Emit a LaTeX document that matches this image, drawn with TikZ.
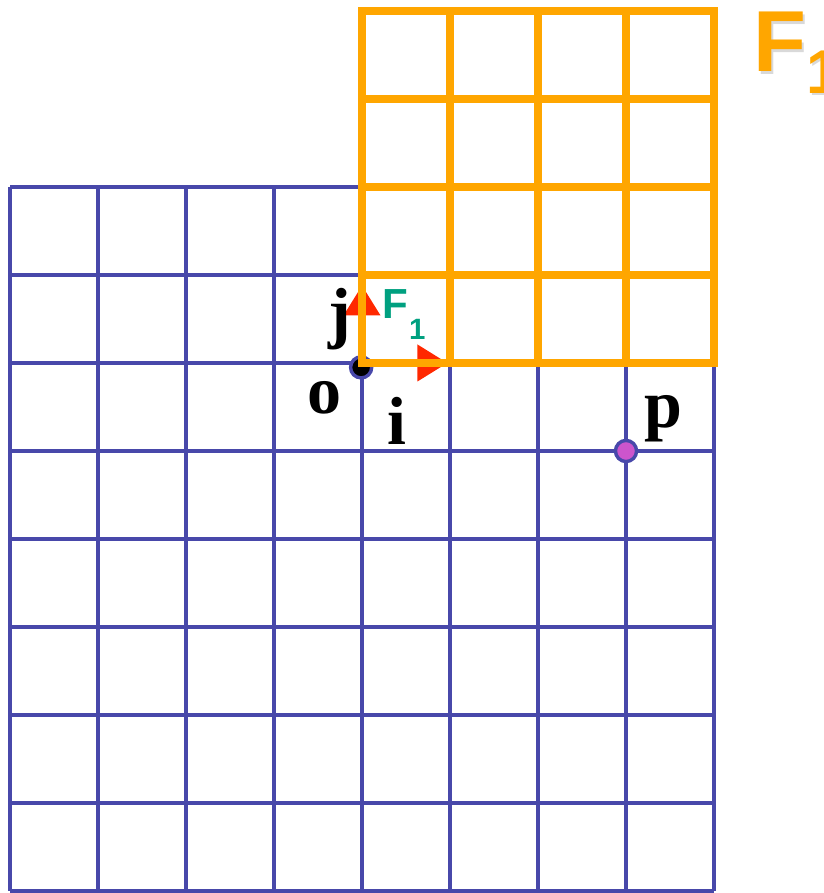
\documentclass[tikz,border=0pt]{standalone}
\usepackage{fontspec}
\setmainfont{Liberation Serif}
\newfontfamily\arialfont{Liberation Sans}
\usetikzlibrary{arrows.meta}

\definecolor{gridblue}{RGB}{72,72,170}
\definecolor{frameorange}{RGB}{255,166,0}
\definecolor{framegreen}{RGB}{0,160,128}
\definecolor{vecred}{RGB}{255,40,0}
\definecolor{pointpink}{RGB}{204,85,204}

% F with a lowered 1: sizes, gap, drop
\newcommand{\framelabel}[4]{{\arialfont\bfseries\fontsize{#1}{#1}\selectfont F\hspace{#3}\raisebox{-#4}{\fontsize{#2}{#2}\selectfont 1}}}

\begin{document}
\begin{tikzpicture}[
    bluegrid/.style = {draw=gridblue, line width=1pt},
    orangegrid/.style = {draw=frameorange, line width=2.5pt, line cap=rect},
    vec/.style = {draw=vecred, fill=vecred, line width=1.2pt, -{Triangle[length=0.34cm,width=0.41cm]}},
    letter/.style = {font=\fontsize{22}{26}\selectfont\bfseries, inner sep=0pt, anchor=base},
    dot/.style = {circle, draw=gridblue, line width=1.1pt, minimum size=0.24cm, inner sep=0pt}
]
\useasboundingbox (-0.114,-0.023) rectangle (9.239,10.125);
% world grid
\draw[bluegrid] (0,0) grid (8,8);
% axes of F1
\coordinate (o) at (4,6);
\coordinate (itip) at (4.97,6);
\coordinate (jtip) at (4,6.88);
\draw[vec] (o) -- (itip);
\draw[vec] (o) -- (jtip);
\node[dot, fill=black] (odot) at (3.99,5.95) {};
\node[dot, fill=pointpink] (pdot) at (7,5) {};
% grid of F1
\draw[orangegrid] (4,6) grid (8,10);
% labels
\node[letter] (jlab) at (3.75,6.31) {j};
\node[letter] (olab) at (3.57,5.43) {o};
\node[letter] (ilab) at (4.40,5.07) {i};
\node[letter] (plab) at (7.42,5.27) {p};
\node[anchor=base west, inner sep=0pt, text=framegreen] (flab) at (4.22,6.51) {\framelabel{13.6pt}{9.5pt}{0.5pt}{6.8pt}};
\node[anchor=base west, inner sep=0pt, text=black!15] (Fshadow) at (8.47,9.28) {\framelabel{28pt}{20pt}{0pt}{7pt}};
\node[anchor=base west, inner sep=0pt, text=frameorange] (Flab) at (8.44,9.307) {\framelabel{28pt}{20pt}{0pt}{7pt}};
\end{tikzpicture}
\end{document}
